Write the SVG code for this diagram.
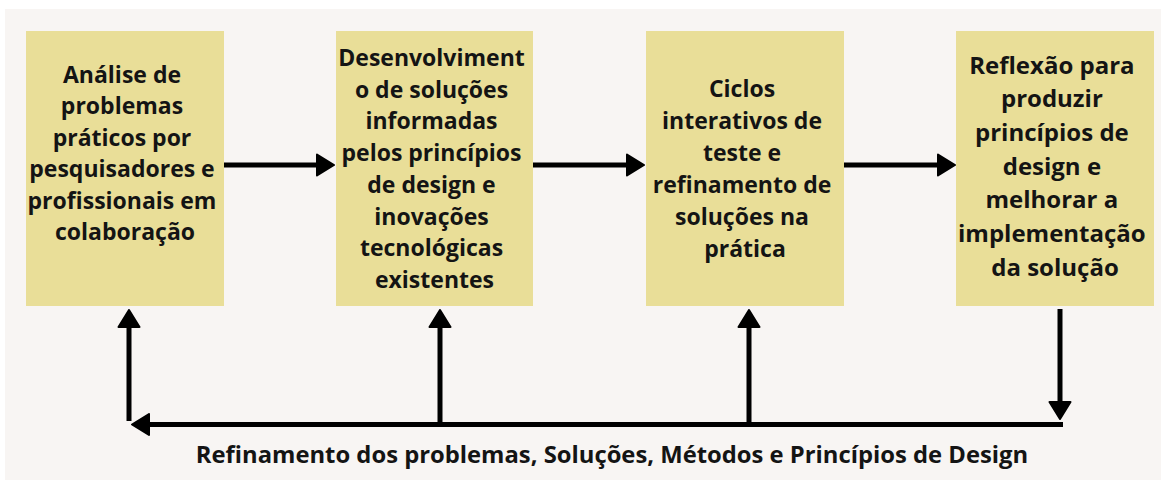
<svg xmlns="http://www.w3.org/2000/svg" width="1161" height="480" viewBox="0 0 1161 480">
  <style>
    .box { fill: #e9de98; }
    .t { font-family: "Open Sans", "Noto Sans", "DejaVu Sans", sans-serif; font-weight: 700; font-size: 23px; fill: #141414; text-anchor: middle; }
    .t4 { font-size: 24px; }
    .lbl { font-family: "Open Sans", "Noto Sans", "DejaVu Sans", sans-serif; font-weight: 700; font-size: 23.8px; fill: #141414; text-anchor: middle; }
    .c { fill: none; stroke: #000; stroke-width: 5; }
  </style>
  <defs>
    <marker id="ah" viewBox="0 0 19 24" refX="1" refY="12" markerWidth="19" markerHeight="24" markerUnits="userSpaceOnUse" orient="auto">
      <path d="M1,1.5 L18,12 L1,22.5 Z" fill="#000" stroke="#000" stroke-width="2" stroke-linejoin="round"/>
    </marker>
  </defs>
  <rect x="0" y="0" width="1161" height="480" fill="#ffffff"/>
  <rect x="5" y="9" width="1156" height="471" fill="#f8f5f3"/>

  <g id="node1">
    <rect class="box" x="26" y="31" width="198" height="275"/>
    <text class="t">
      <tspan x="125" y="83">Análise de</tspan>
      <tspan x="125" y="114.4">problemas</tspan>
      <tspan x="125" y="145.8">práticos por</tspan>
      <tspan x="125" y="177.2">pesquisadores e</tspan>
      <tspan x="125" y="208.6">profissionais em</tspan>
      <tspan x="125" y="240">colaboração</tspan>
    </text>
  </g>
  <g id="node2">
    <rect class="box" x="336" y="31" width="197" height="275"/>
    <text class="t">
      <tspan x="434.5" y="66">Desenvolviment</tspan>
      <tspan x="434.5" y="97.7">o de soluções</tspan>
      <tspan x="434.5" y="129.4">informadas</tspan>
      <tspan x="434.5" y="161.1">pelos princípios</tspan>
      <tspan x="434.5" y="192.8">de design e</tspan>
      <tspan x="434.5" y="224.5">inovações</tspan>
      <tspan x="434.5" y="256.2">tecnológicas</tspan>
      <tspan x="434.5" y="287.9">existentes</tspan>
    </text>
  </g>
  <g id="node3">
    <rect class="box" x="646" y="31" width="198" height="275"/>
    <text class="t">
      <tspan x="745" y="97">Ciclos</tspan>
      <tspan x="745" y="129">interativos de</tspan>
      <tspan x="745" y="161">teste e</tspan>
      <tspan x="745" y="193">refinamento de</tspan>
      <tspan x="745" y="225">soluções na</tspan>
      <tspan x="745" y="257">prática</tspan>
    </text>
  </g>
  <g id="node4">
    <rect class="box" x="956" y="31" width="198" height="275"/>
    <text class="t t4">
      <tspan x="1055" y="73.5">Reflexão para</tspan>
      <tspan x="1055" y="107.2">produzir</tspan>
      <tspan x="1055" y="140.9">princípios de</tspan>
      <tspan x="1055" y="174.6">design e</tspan>
      <tspan x="1055" y="208.3">melhorar a</tspan>
      <tspan x="1055" y="242">implementação</tspan>
      <tspan x="1055" y="275.7">da solução</tspan>
    </text>
  </g>

  <g id="connectors">
    <path class="c" d="M224,165 H317" marker-end="url(#ah)"/>
    <path class="c" d="M533,165 H627" marker-end="url(#ah)"/>
    <path class="c" d="M844,165 H938" marker-end="url(#ah)"/>
    <path class="c" d="M1060,309 V402" marker-end="url(#ah)"/>
    <path class="c" d="M1063,424.5 H149" marker-end="url(#ah)"/>
    <path class="c" d="M129,421 V327" marker-end="url(#ah)"/>
    <path class="c" d="M440,424 V327" marker-end="url(#ah)"/>
    <path class="c" d="M749,424 V327" marker-end="url(#ah)"/>
  </g>

  <text class="lbl" x="612" y="463">Refinamento dos problemas, Soluções, Métodos e Princípios de Design</text>
</svg>
